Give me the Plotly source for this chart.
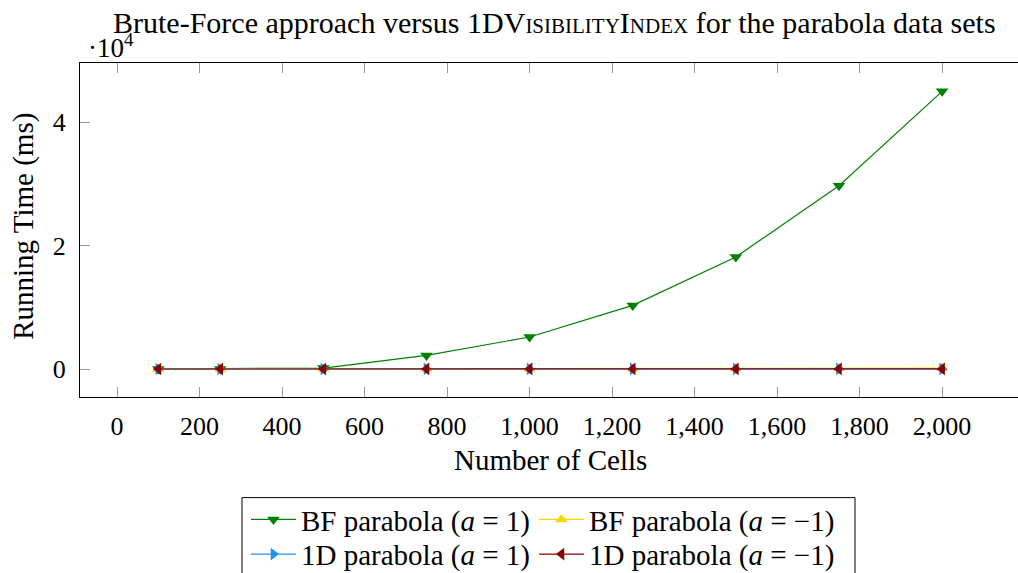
import plotly.graph_objects as go

cells = [100, 250, 500, 750, 1000, 1250, 1500, 1750, 2000]
bf_pos = [2, 15, 150, 2200, 5190, 10320, 18170, 29730, 45030]
bf_neg = [1, 4, 12, 25, 40, 60, 85, 115, 150]
oned_pos = [1, 2, 4, 6, 8, 10, 12, 15, 18]
oned_neg = [1, 2, 4, 6, 8, 10, 12, 15, 18]

names = ["BF parabola (<i>a</i> = 1)",
         "BF parabola (<i>a</i> = −1)",
         "1D parabola (<i>a</i> = 1)",
         "1D parabola (<i>a</i> = −1)"]
colors = ["#008000", "#FFD700", "#1E8FFF", "#8B0000"]
symbols = ["triangle-down", "triangle-up", "triangle-right", "triangle-left"]
series = [bf_pos, bf_neg, oned_pos, oned_neg]
legends = ["legend", "legend2", "legend3", "legend4"]

xticks = list(range(0, 2001, 200))
yticks = [0, 20000, 40000]
yticklabels = ["0", "2", "4"]

FONT = "Liberation Serif"
L, T, B = 80, 63, 397.3
PW, PH = 938, B - T


def px(x):
    return (x - L) / PW


def py(y):
    return (B - y) / PH


fig = go.Figure()
for nm, c, s, ys, lg in zip(names, colors, symbols, series, legends):
    fig.add_trace(go.Scatter(
        x=cells, y=ys, name=nm, mode="lines+markers", legend=lg,
        line=dict(color=c, width=1.2),
        marker=dict(symbol=s, size=11, color=c, line=dict(width=0)),
    ))

axis_font = dict(family=FONT, size=26, color="black")
leg_font = dict(family=FONT, size=29, color="black")

# legend entry positions: (left px, row center px)
leg_pos = [(246, 520), (534, 520), (246, 554.7), (534, 554.7)]
leg_layout = {}
for lg, (lx, ly) in zip(legends, leg_pos):
    leg_layout[lg] = dict(
        x=px(lx), xanchor="left", y=py(ly), yanchor="middle",
        orientation="v", bgcolor="rgba(0,0,0,0)", borderwidth=0,
        font=leg_font, itemwidth=45,
    )

fig.update_layout(
    width=1018, height=573,
    margin=dict(l=L, r=0, t=T, b=573 - B, autoexpand=False),
    paper_bgcolor="white", plot_bgcolor="white",
    font=dict(family=FONT, size=26, color="black"),
    showlegend=True,
    xaxis=dict(
        range=[-90, 2184], tickvals=xticks, tickformat=",",
        ticks="inside", ticklen=10, tickcolor="#999999", tickwidth=1,
        showline=True, linecolor="black", linewidth=1.2, mirror="ticks",
        showgrid=False, zeroline=False, tickfont=axis_font,
        ticklabelstandoff=6,
    ),
    yaxis=dict(
        range=[-4540, 49630], tickvals=yticks, ticktext=yticklabels,
        ticks="inside", ticklen=10, tickcolor="#999999", tickwidth=1,
        showline=True, linecolor="black", linewidth=1.2, mirror=False,
        showgrid=False, zeroline=False, tickfont=axis_font,
        ticklabelstandoff=8,
    ),
    yaxis2=dict(
        overlaying="y", side="right", range=[-4540, 49630], tickvals=yticks,
        ticks="inside", ticklen=10, tickcolor="#999999", tickwidth=1,
        showticklabels=False, showline=False, showgrid=False, zeroline=False,
    ),
    **leg_layout,
)

# legend frame
fig.add_shape(type="rect", xref="paper", yref="paper",
              x0=px(242), x1=px(855), y0=py(498), y1=py(590),
              line=dict(color="black", width=1), fillcolor="rgba(0,0,0,0)",
              layer="below")

sc = "font-size:21px"
title_text = ("Brute-Force approach versus 1DV<span style='%s'>ISIBILITY</span>I"
              "<span style='%s'>NDEX</span> for the parabola data sets") % (sc, sc)

fig.add_annotation(text=title_text, xref="paper", yref="paper",
                   x=px(554), y=py(22),
                   xanchor="center", yanchor="middle", showarrow=False,
                   font=dict(family=FONT, size=30, color="black"))
fig.add_annotation(text="·10<sup>4</sup>", xref="paper", yref="paper",
                   x=px(86), y=py(46),
                   xanchor="left", yanchor="middle", showarrow=False,
                   font=dict(family=FONT, size=27, color="black"))
fig.add_annotation(text="Number of Cells", xref="paper", yref="paper",
                   x=px(550), y=py(460),
                   xanchor="center", yanchor="middle", showarrow=False,
                   font=dict(family=FONT, size=29, color="black"))
fig.add_annotation(text="Running Time (ms)", xref="paper", yref="paper",
                   x=px(24), y=py(227), textangle=-90,
                   xanchor="center", yanchor="middle", showarrow=False,
                   font=dict(family=FONT, size=29, color="black"))

fig.write_html("out.html")
